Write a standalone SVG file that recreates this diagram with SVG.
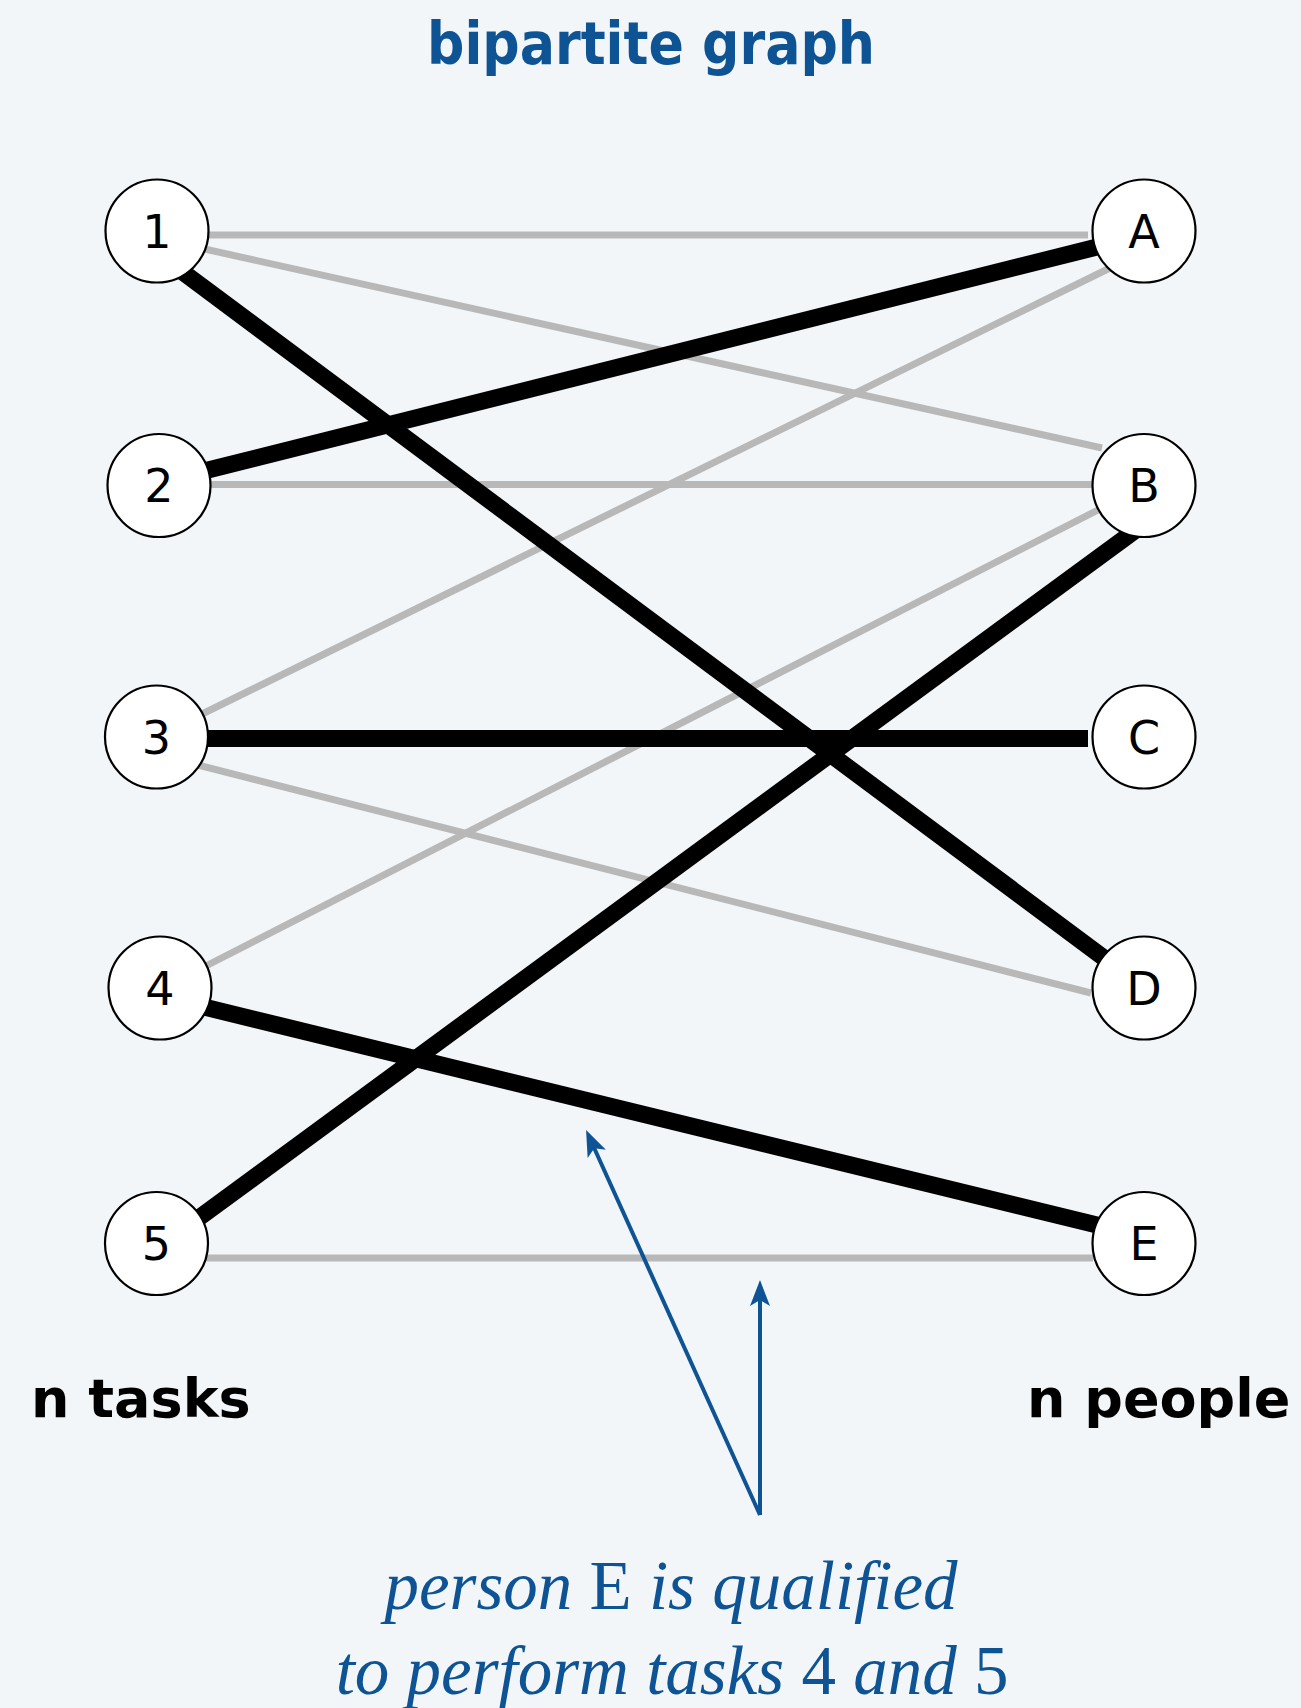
<svg xmlns="http://www.w3.org/2000/svg" width="1301" height="1708" viewBox="0 0 1301 1708">
<style>
.bg{fill:#f2f6f9}
.node circle{fill:#ffffff;stroke:#000000;stroke-width:2.2}
.node text{font-family:"DejaVu Sans",sans-serif;font-size:46px;fill:#000000;text-anchor:middle}
.gray{stroke:#b8b8b8;stroke-width:7;fill:none}
.black{stroke:#000000;stroke-width:17;fill:none}
.blue{stroke:#0e5494;stroke-width:4;fill:none}
.title{font-family:"DejaVu Sans",sans-serif;font-weight:bold;font-size:58px;fill:#0e5494;text-anchor:middle}
.lbl{font-family:"DejaVu Sans",sans-serif;font-weight:bold;font-size:54px;fill:#000000}
.note{font-family:"Liberation Serif",serif;font-style:italic;font-size:69px;fill:#0e5494;text-anchor:middle}
.up{font-style:normal}
</style>
<defs>
<marker id="ah" markerUnits="userSpaceOnUse" markerWidth="30" markerHeight="24" viewBox="-28 -12 30 24" refX="-12" refY="0" orient="auto">
<path d="M0,0 L-26,-10 L-20,0 L-26,10 Z" fill="#0e5494"/>
</marker>
</defs>
<rect class="bg" x="0" y="0" width="1301" height="1708"/>
<text class="title" x="651" y="64" textLength="448" lengthAdjust="spacingAndGlyphs">bipartite graph</text>
<g id="connectors">
<line class="gray" x1="200" y1="235" x2="1088" y2="235"/>
<line class="gray" x1="200" y1="248" x2="1102" y2="448"/>
<line class="gray" x1="200" y1="484.5" x2="1092" y2="484.5"/>
<line class="gray" x1="198" y1="716" x2="1112" y2="267"/>
<line class="gray" x1="198" y1="765" x2="1091" y2="993"/>
<line class="gray" x1="200" y1="969" x2="1100" y2="509"/>
<line class="gray" x1="200" y1="1258" x2="1093" y2="1258"/>
<line class="black" x1="180" y1="270" x2="1104" y2="958"/>
<line class="black" x1="200" y1="472" x2="1097" y2="247"/>
<line class="black" x1="200" y1="738.5" x2="1088" y2="738.5"/>
<line class="black" x1="200" y1="1006" x2="1097" y2="1225"/>
<line class="black" x1="196" y1="1220" x2="1140" y2="527"/>
<line class="blue" x1="760" y1="1515" x2="591" y2="1141" marker-end="url(#ah)"/>
<line class="blue" x1="760" y1="1515" x2="760" y2="1292" marker-end="url(#ah)"/>
</g>
<g id="node-1" class="node"><circle cx="157" cy="231" r="51.5"/><text x="157" y="247.5">1</text></g>
<g id="node-2" class="node"><circle cx="159" cy="485.5" r="51.5"/><text x="159" y="502">2</text></g>
<g id="node-3" class="node"><circle cx="156.5" cy="737" r="51.5"/><text x="156.5" y="753.5">3</text></g>
<g id="node-4" class="node"><circle cx="160" cy="988" r="51.5"/><text x="160" y="1004.5">4</text></g>
<g id="node-5" class="node"><circle cx="156.5" cy="1243.5" r="51.5"/><text x="156.5" y="1260">5</text></g>
<g id="node-A" class="node"><circle cx="1144" cy="231" r="51.5"/><text x="1144" y="247.5">A</text></g>
<g id="node-B" class="node"><circle cx="1144" cy="485.5" r="51.5"/><text x="1144" y="502">B</text></g>
<g id="node-C" class="node"><circle cx="1144" cy="737" r="51.5"/><text x="1144" y="753.5">C</text></g>
<g id="node-D" class="node"><circle cx="1144" cy="988" r="51.5"/><text x="1144" y="1004.5">D</text></g>
<g id="node-E" class="node"><circle cx="1144" cy="1243.5" r="51.5"/><text x="1144" y="1260">E</text></g>
<text class="lbl" x="31" y="1417">n tasks</text>
<text class="lbl" x="1027" y="1417">n people</text>
<text class="note" x="671" y="1609">person <tspan class="up">E</tspan> is qualified</text>
<text class="note" x="672" y="1694">to perform tasks <tspan class="up">4</tspan> and <tspan class="up">5</tspan></text>
</svg>
